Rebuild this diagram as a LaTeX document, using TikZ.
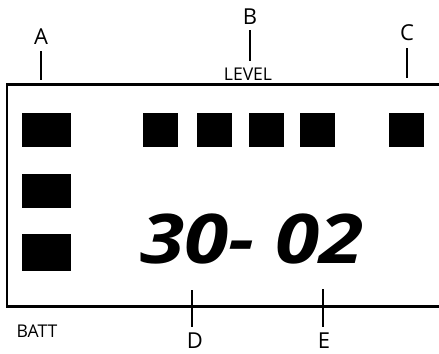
\documentclass[tikz,border=0pt]{standalone}
\usepackage{fontspec}
\setmainfont{Open Sans}
\usetikzlibrary{positioning}

\begin{document}
\begin{tikzpicture}[
    x=0.02cm, y=-0.02cm,
    every node/.style={font=\fontsize{12.5}{14}\selectfont, inner sep=0pt},
    seg/.style={rectangle, fill=black, minimum width=#1, minimum height=0.68cm},
    seg/.default=0.7cm,
    small/.style={font=\fontsize{10}{12}\selectfont},
    pointer/.style={line width=0.9pt}
]
\useasboundingbox (0,0) rectangle (439,353);

% Display frame (right side runs off the picture)
\draw[line width=1.7pt] (445,84) -- (7,84) -- (7,306) -- (445,306);

% Left column of segments
\node[seg=0.98cm] (s1) at (46.5,130) {};
\node[seg=0.98cm] (s2) at (46.5,191) {};
\node[seg=0.98cm, minimum height=0.74cm] (s3) at (46.5,252.5) {};

% Level bar segments
\node[seg] (l1) at (160.5,130) {};
\node[seg] (l2) at (214,130) {};
\node[seg] (l3) at (266,130) {};
\node[seg] (l4) at (317.5,130) {};

% Right segment
\node[seg] (r1) at (406.5,130) {};

% Digits
\node[font=\fontsize{39}{39}\selectfont\bfseries\itshape, xscale=1.17] (num) at (252,239) {30- 02};

% Labels above
\node (la) at (41,37) {A};
\coordinate (pa1) at (41,51);
\coordinate (pa2) at (41,80);
\draw[pointer] (pa1) -- (pa2);

\node (lb) at (250,17) {B};
\node[small] (lev) at (248,74) {LEVEL};
\coordinate (pb1) at (250,30);
\coordinate (pb2) at (250,61);
\draw[pointer] (pb1) -- (pb2);

\node (lc) at (407,33) {C};
\coordinate (pc1) at (407,48);
\coordinate (pc2) at (407,78);
\draw[pointer] (pc1) -- (pc2);

% Labels below
\node (ld) at (195,341) {D};
\coordinate (pd1) at (192,290);
\coordinate (pd2) at (192,327);
\draw[pointer] (pd1) -- (pd2);

\node (le) at (324,341) {E};
\coordinate (pe1) at (323,289);
\coordinate (pe2) at (323,327);
\draw[pointer] (pe1) -- (pe2);

\node[small] (batt) at (37,331) {BATT};

\end{tikzpicture}
\end{document}
